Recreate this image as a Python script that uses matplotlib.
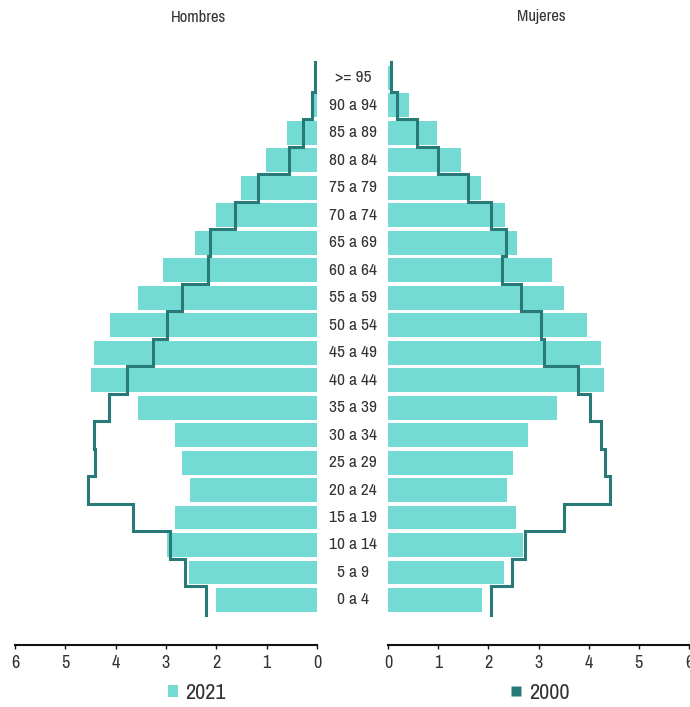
import numpy as np
import matplotlib
matplotlib.use('Agg')
import matplotlib.pyplot as plt
from matplotlib import font_manager
from matplotlib.patches import Patch
from matplotlib.lines import Line2D

# pick a narrow face if one is installed, otherwise Liberation Sans
names = sorted({f.name for f in font_manager.fontManager.ttflist})
narrow = [n for n in names if 'Narrow' in n or 'Condensed' in n]
fig_font = narrow[0] if narrow else 'Liberation Sans'
plt.rcParams['font.family'] = [fig_font, 'DejaVu Sans']

# age groups, bottom to top
ages = ['0 a 4', '5 a 9', '10 a 14', '15 a 19', '20 a 24', '25 a 29', '30 a 34',
        '35 a 39', '40 a 44', '45 a 49', '50 a 54', '55 a 59', '60 a 64', '65 a 69',
        '70 a 74', '75 a 79', '80 a 84', '85 a 89', '90 a 94', '>= 95']

# percentage of population
hombres_2021 = [2.00, 2.54, 2.99, 2.83, 2.52, 2.68, 2.83, 3.55, 4.49, 4.44,
                4.11, 3.55, 3.05, 2.43, 2.01, 1.51, 1.02, 0.60, 0.12, 0.03]
hombres_2000 = [2.20, 2.62, 2.93, 3.66, 4.55, 4.42, 4.43, 4.14, 3.78, 3.25,
                2.98, 2.68, 2.17, 2.12, 1.62, 1.17, 0.55, 0.27, 0.09, 0.04]
mujeres_2021 = [1.88, 2.32, 2.70, 2.56, 2.38, 2.50, 2.79, 3.37, 4.31, 4.25,
                3.97, 3.50, 3.27, 2.58, 2.34, 1.86, 1.46, 0.97, 0.42, 0.05]
mujeres_2000 = [2.06, 2.47, 2.73, 3.50, 4.43, 4.33, 4.25, 4.02, 3.79, 3.11,
                3.05, 2.65, 2.27, 2.36, 2.06, 1.59, 1.00, 0.57, 0.17, 0.06]

bar_color = '#74dad4'
line_color = '#277a77'
text_color = '#333333'

W, H = 690, 707
fig = plt.figure(figsize=(W / 100, H / 100), dpi=100)
ax_l = fig.add_axes([15 / W, 62 / H, 302 / W, 585 / H])
ax_r = fig.add_axes([388 / W, 62 / H, 301 / W, 585 / H])

y = np.arange(len(ages))


def step_path(vals):
    # vertical segment per age band, ends slightly past the outer bands
    xs = np.repeat(vals, 2)
    ys = np.column_stack([y - 0.5, y + 0.5]).ravel()
    ys[0] -= 0.06
    ys[-1] += 0.06
    return xs, ys


for ax, v21, v00 in [(ax_l, hombres_2021, hombres_2000), (ax_r, mujeres_2021, mujeres_2000)]:
    ax.barh(y, v21, height=0.87, color=bar_color, zorder=2)
    xs, ys = step_path(np.array(v00))
    ax.plot(xs, ys, color=line_color, lw=2.2, zorder=3, solid_joinstyle='miter')
    ax.set_ylim(-1.64, 19.65)
    ax.set_yticks([])
    for s in ['top', 'left', 'right']:
        ax.spines[s].set_visible(False)
    ax.spines['bottom'].set_linewidth(1.5)
    ax.spines['bottom'].set_color('#111111')
    ax.set_xticks(range(0, 7))
    ax.tick_params(axis='x', length=3, width=1, colors='#111111', labelsize=13,
                   labelcolor=text_color, pad=4)

ax_l.set_xlim(6, 0)
ax_r.set_xlim(0, 6)

# age labels in the gap between the panels
for yi, lab in zip(y, ages):
    ax_l.annotate(lab, xy=(0, yi), xycoords='data', xytext=(26, 0), textcoords='offset points',
                  ha='center', va='center', fontsize=12.5, color=text_color)

fig.text(198 / W, 1 - 17 / H, 'Hombres', ha='center', va='center', fontsize=12, color=text_color)
fig.text(541 / W, 1 - 17 / H, 'Mujeres', ha='center', va='center', fontsize=12, color=text_color)

h21 = [Patch(facecolor=bar_color, edgecolor='none')]
h00 = [Line2D([], [], marker='s', color='none', markerfacecolor=line_color,
              markeredgecolor='none', markersize=7.5)]
fig.legend(h21, ['2021'], loc='center', bbox_to_anchor=(197 / W, 1 - 693 / H),
           frameon=False, fontsize=16, handlelength=0.42, handleheight=0.42,
           handletextpad=0.35, labelcolor=text_color)
fig.legend(h00, ['2000'], loc='center', bbox_to_anchor=(540 / W, 1 - 693 / H),
           frameon=False, fontsize=16, handlelength=0.45, handletextpad=0.35,
           labelcolor=text_color)

fig.savefig('out.png', dpi=100)
